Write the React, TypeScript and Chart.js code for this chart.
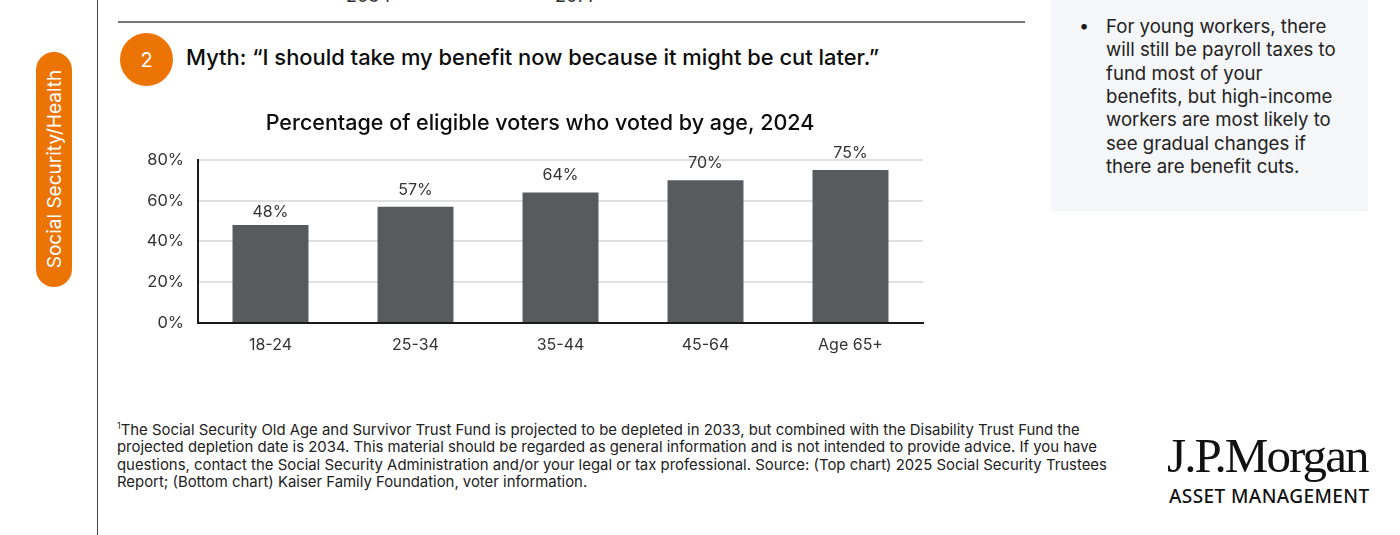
import { useEffect, useRef } from "react"
import type { CSSProperties } from "react"
import { Chart, registerables } from "chart.js"

Chart.register(...registerables)

const ageGroups = ["18-24", "25-34", "35-44", "45-64", "Age 65+"]
const votedPct = [48, 57, 64, 70, 75]
const yTicks = [0, 20, 40, 60, 80]

const footnoteLines = [
  "The Social Security Old Age and Survivor Trust Fund is projected to be depleted in 2033, but combined with the Disability Trust Fund the",
  "projected depletion date is 2034. This material should be regarded as general information and is not intended to provide advice. If you have",
  "questions, contact the Social Security Administration and/or your legal or tax professional. Source: (Top chart) 2025 Social Security Trustees",
  "Report; (Bottom chart) Kaiser Family Foundation, voter information.",
]
const sidebarLines = [
  "For young workers, there",
  "will still be payroll taxes to",
  "fund most of your",
  "benefits, but high-income",
  "workers are most likely to",
  "see gradual changes if",
  "there are benefit cuts.",
]

const FONT = "Inter, 'Noto Sans', sans-serif"
const ORANGE = "#ec7405"
const text: CSSProperties = { position: "absolute", whiteSpace: "nowrap", fontFamily: FONT, color: "#1a1a1a" }

// value labels above the bars
const barLabels = {
  id: "barLabels",
  afterDatasetsDraw(chart: Chart) {
    const ctx = chart.ctx
    ctx.save()
    ctx.font = `16px ${FONT}`
    ctx.fillStyle = "#333"
    ctx.textAlign = "center"
    ctx.textBaseline = "middle"
    chart.getDatasetMeta(0).data.forEach((bar, i) => {
      // the first label sits closer to its bar in the original
      ctx.fillText(votedPct[i] + "%", bar.x, bar.y - (i === 0 ? 13 : 17))
    })
    ctx.restore()
  },
}

function VotersChart() {
  const ref = useRef<HTMLCanvasElement>(null)

  useEffect(() => {
    if (!ref.current) return
    const chart = new Chart(ref.current, {
      type: "bar",
      data: {
        labels: ageGroups,
        datasets: [
          {
            data: votedPct,
            backgroundColor: "#575b5d",
            barPercentage: 0.524,
            categoryPercentage: 1,
          },
        ],
      },
      options: {
        responsive: false,
        animation: false,
        layout: { padding: { top: 11, right: 0, bottom: 0, left: 0 } },
        plugins: {
          legend: { display: false },
          tooltip: { enabled: false },
          title: {
            display: true,
            text: "Percentage of eligible voters who voted by age, 2024",
            color: "#0d0d0d",
            font: { family: FONT, size: 21.5, weight: 500 },
            padding: { top: 0, bottom: 23 },
          },
        },
        scales: {
          x: {
            grid: { display: false, drawTicks: false },
            border: { color: "#1a1a1a", width: 2 },
            ticks: { color: "#333", font: { family: FONT, size: 16 }, padding: 13 },
            afterFit: (scale) => {
              scale.height = 47
            },
          },
          y: {
            min: 0,
            max: 80,
            afterBuildTicks: (scale) => {
              scale.ticks = yTicks.map((value) => ({ value }))
            },
            grid: { color: "#e0e0e0", lineWidth: 2, drawTicks: false },
            border: { color: "#1a1a1a", width: 2 },
            ticks: {
              color: "#333",
              font: { family: FONT, size: 16.5 },
              padding: 14,
              callback: (v) => v + "%",
            },
            afterFit: (scale) => {
              scale.width = 81
            },
          },
          // empty axis, only there to keep the plot short of the canvas edge so the title centres right
          spacer: {
            axis: "y",
            position: "right",
            grid: { display: false, drawTicks: false },
            border: { display: false },
            ticks: { display: false },
            afterFit: (scale) => {
              scale.width = 40
            },
          },
        },
      },
      plugins: [barLabels],
    })
    return () => chart.destroy()
  }, [])

  return (
    <canvas
      ref={ref}
      width={846}
      height={270}
      style={{ position: "absolute", left: 117, top: 100, width: 846, height: 270 }}
    />
  )
}

export default function App() {
  return (
    <div style={{ position: "fixed", left: 0, top: 0, width: 1400, height: 535, overflow: "hidden", background: "#fff" }}>
      {/* left rail */}
      <div style={{ position: "absolute", left: 97, top: 0, width: 1, height: 535, background: "#444" }} />
      <div style={{ position: "absolute", left: 36, top: 52, width: 36, height: 235, borderRadius: 18, background: ORANGE }} />
      <div
        style={{
          ...text,
          left: 54,
          top: 169,
          color: "#fff",
          fontSize: 19,
          transform: "translate(-50%, -50%) rotate(-90deg)",
        }}
      >
        Social Security/Health
      </div>

      {/* clipped axis labels of the chart above */}
      <div style={{ ...text, left: 346, top: -14, fontSize: 18, lineHeight: "20px", color: "#333" }}>2034</div>
      <div style={{ ...text, left: 555, top: -14, fontSize: 18, lineHeight: "20px", color: "#333" }}>2077</div>
      <div style={{ position: "absolute", left: 118, top: 21, width: 907, height: 2, background: "#777" }} />

      {/* myth heading */}
      <div
        style={{
          position: "absolute",
          left: 120,
          top: 33,
          width: 53,
          height: 53,
          borderRadius: "50%",
          background: ORANGE,
          color: "#fff",
          fontFamily: FONT,
          fontSize: 20,
          lineHeight: "55px",
          textAlign: "center",
        }}
      >
        2
      </div>
      <div style={{ ...text, left: 186, top: 44, fontSize: 21.9, fontWeight: 500, color: "#0d0d0d" }}>
        Myth: “I should take my benefit now because it might be cut later.”
      </div>

      <VotersChart />

      {/* side panel */}
      <div style={{ position: "absolute", left: 1051, top: 0, width: 317, height: 211, background: "#f5f6f8" }} />
      <div style={{ ...text, left: 1079, top: 15, fontSize: 18 }}>•</div>
      {sidebarLines.map((line, i) => (
        <div key={i} style={{ ...text, left: 1106, top: 15 + i * 23.3, fontSize: 18.6, lineHeight: "23px", color: "#222" }}>
          {line}
        </div>
      ))}

      {/* footnote */}
      {footnoteLines.map((line, i) => (
        <div key={i} style={{ ...text, left: 117, top: 422 + i * 17.3, fontSize: 14.9, lineHeight: "17px", color: "#222" }}>
          {i === 0 && <sup style={{ fontSize: 9, lineHeight: 0 }}>1</sup>}
          {line}
        </div>
      ))}

      {/* logo */}
      <div
        style={{
          ...text,
          left: 1167,
          top: 428,
          fontFamily: "'Liberation Serif', serif",
          fontSize: 49,
          lineHeight: "56px",
          letterSpacing: "-1.9px",
          color: "#111",
        }}
      >
        J.P.Morgan
      </div>
      <div style={{ ...text, left: 1169, top: 485, fontSize: 19, fontWeight: 500, lineHeight: "22px", letterSpacing: "0.4px", color: "#111", fontFamily: "'Noto Sans', sans-serif" }}>
        ASSET MANAGEMENT
      </div>
    </div>
  )
}
